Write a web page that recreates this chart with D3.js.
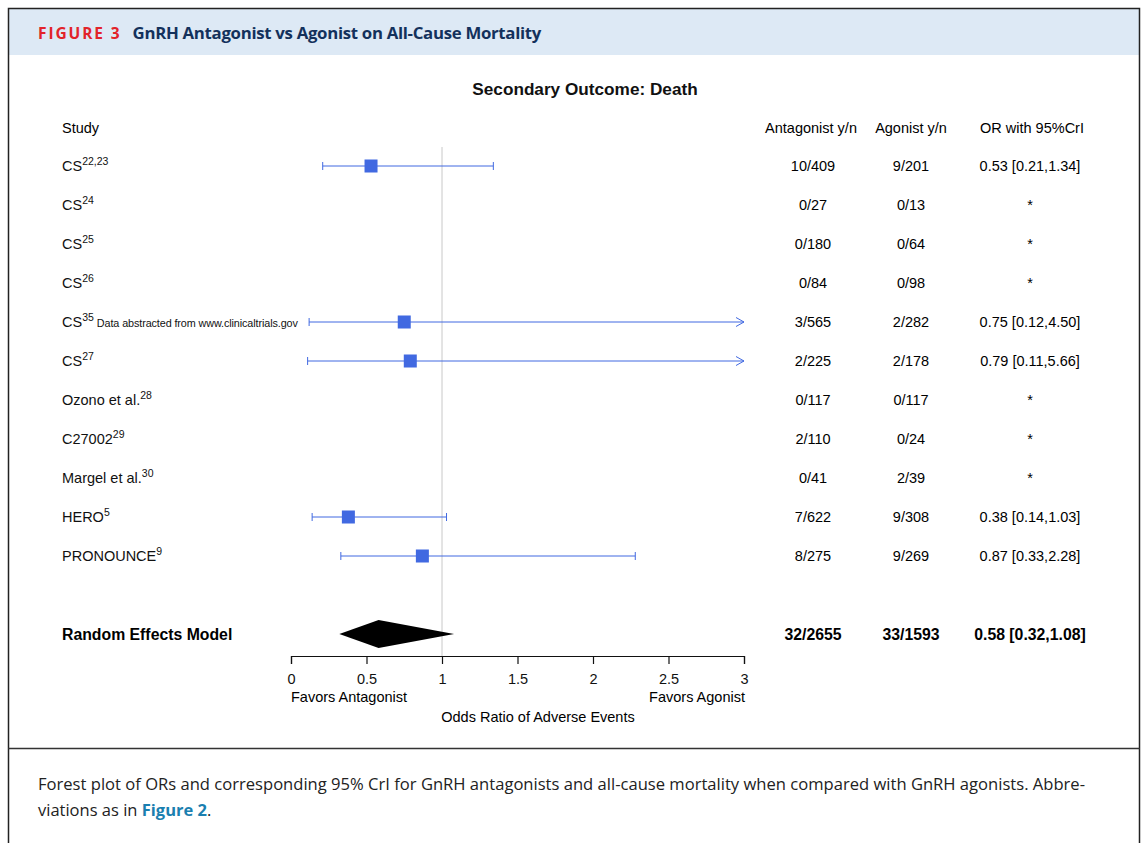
<!DOCTYPE html>
<html>
<head>
<meta charset="utf-8">
<script src="https://cdn.jsdelivr.net/npm/d3@7"></script>
<style>
  body { margin: 0; background: #fff; }
  svg text { font-family: 'Liberation Sans', Arial, sans-serif; }
</style>
</head>
<body>
<svg id="fig" width="1142" height="843"></svg>
<script>
// study labels and their reference superscripts
let studyNames = ['CS', 'CS', 'CS', 'CS', 'CS', 'CS', 'Ozono et al.', 'C27002', 'Margel et al.', 'HERO', 'PRONOUNCE'];
let studySups = ['22,23', '24', '25', '26', '35', '27', '28', '29', '30', '5', '9'];
let studyNotes = ['', '', '', '', 'Data abstracted from www.clinicaltrials.gov', '', '', '', '', '', ''];
let antagonistYN = ['10/409', '0/27', '0/180', '0/84', '3/565', '2/225', '0/117', '2/110', '0/41', '7/622', '8/275'];
let agonistYN = ['9/201', '0/13', '0/64', '0/98', '2/282', '2/178', '0/117', '0/24', '2/39', '9/308', '9/269'];
// null = not estimable (*)
let orEst = [0.53, null, null, null, 0.75, 0.79, null, null, null, 0.38, 0.87];
let orLow = [0.21, null, null, null, 0.12, 0.11, null, null, null, 0.14, 0.33];
let orHigh = [1.34, null, null, null, 4.50, 5.66, null, null, null, 1.03, 2.28];

let pooled = {label: 'Random Effects Model', antagonist: '32/2655', agonist: '33/1593', est: 0.58, low: 0.32, high: 1.08};
let xTicks = [0, 0.5, 1, 1.5, 2, 2.5, 3];

let svg = d3.select('#fig');

// ---- frame ----
svg.append('rect').attr('x', 9).attr('y', 9).attr('width', 1130).attr('height', 46).attr('fill', '#dde9f5');
svg.append('path')
  .attr('d', 'M8.5,843 V8.5 H1139.5 V843')
  .attr('fill', 'none').attr('stroke', '#222').attr('stroke-width', 1.5);
svg.append('line').attr('x1', 8).attr('x2', 1140).attr('y1', 748.5).attr('y2', 748.5)
  .attr('stroke', '#333').attr('stroke-width', 1.5);

let title = svg.append('text').attr('x', 38).attr('y', 39)
  .style('font-family', "'Open Sans', 'Noto Sans', sans-serif").attr('font-weight', 'bold');
title.append('tspan').attr('fill', '#e2232a').attr('font-size', 15.5).attr('letter-spacing', 1.9).text('FIGURE 3');
title.append('tspan').attr('dx', 11).attr('fill', '#13315c').attr('font-size', 16.8).attr('letter-spacing', -0.3)
  .text('GnRH Antagonist vs Agonist on All-Cause Mortality');

// ---- caption ----
let capFont = "'Open Sans', 'Noto Sans', sans-serif";
svg.append('text').attr('x', 38).attr('y', 790).attr('font-size', 16.5).attr('fill', '#222')
  .attr('textLength', 1047).attr('lengthAdjust', 'spacingAndGlyphs')
  .style('font-family', capFont)
  .text('Forest plot of ORs and corresponding 95% CrI for GnRH antagonists and all-cause mortality when compared with GnRH agonists. Abbre-');
let cap2 = svg.append('text').attr('x', 38).attr('y', 816).attr('font-size', 16.5).attr('fill', '#222')
  .style('font-family', capFont);
cap2.append('tspan').text('viations as in ');
cap2.append('tspan').attr('fill', '#1a7fb0').attr('font-weight', 'bold').text('Figure 2');
cap2.append('tspan').text('.');

// ---- forest plot ----
let x = d3.scaleLinear().domain([0, 3]).range([291, 744]);
let y = d3.scaleLinear().domain([0, 1]).range([166, 205]);
let headY = 128;
let pooledY = y(12);
let colAnt = 813, colAgo = 911, colOR = 1030;
let blue = '#4169e1';

svg.append('text').attr('x', 585).attr('y', 95).attr('text-anchor', 'middle')
  .attr('font-size', 17.2).attr('font-weight', 'bold').attr('fill', '#111').text('Secondary Outcome: Death');

let fs = 14.5, fsb = 15.8;
svg.append('text').attr('x', 62).attr('y', headY + 5).attr('font-size', fs).text('Study');
svg.append('text').attr('x', 811).attr('y', headY + 5).attr('font-size', fs).attr('text-anchor', 'middle').text('Antagonist y/n');
svg.append('text').attr('x', 911).attr('y', headY + 5).attr('font-size', fs).attr('text-anchor', 'middle').text('Agonist y/n');
svg.append('text').attr('x', 1032).attr('y', headY + 5).attr('font-size', fs).attr('text-anchor', 'middle').text('OR with 95%CrI');

// reference line at OR = 1
svg.append('line').attr('x1', x(1)).attr('x2', x(1)).attr('y1', 147).attr('y2', 656)
  .attr('stroke', '#c8c8c8').attr('stroke-width', 1);

let rows = studyNames.map((n, i) => ({
  name: n, sup: studySups[i], note: studyNotes[i],
  ant: antagonistYN[i], ago: agonistYN[i],
  est: orEst[i], low: orLow[i], high: orHigh[i], i: i
}));

let g = svg.append('g').selectAll('g').data(rows).enter().append('g')
  .attr('transform', (d) => 'translate(0,' + y(d.i) + ')');

let lab = g.append('text').attr('x', 62).attr('y', 5).attr('font-size', fs).attr('fill', '#111');
lab.append('tspan').text((d) => d.name);
lab.append('tspan').attr('font-size', 10.5).attr('dy', -6).text((d) => d.sup);
lab.append('tspan').attr('font-size', 10.8).attr('dy', 6).attr('dx', 3).attr('letter-spacing', -0.1)
  .text((d) => d.note);

g.append('text').attr('x', colAnt).attr('y', 5).attr('font-size', fs).attr('text-anchor', 'middle').text((d) => d.ant);
g.append('text').attr('x', colAgo).attr('y', 5).attr('font-size', fs).attr('text-anchor', 'middle').text((d) => d.ago);
g.append('text').attr('x', colOR).attr('y', 5).attr('font-size', fs).attr('text-anchor', 'middle')
  .text((d) => d.est == null ? '*' : d.est.toFixed(2) + ' [' + d.low.toFixed(2) + ',' + d.high.toFixed(2) + ']');

let est = g.filter((d) => d.est != null);
let xMax = x.domain()[1];
est.append('line')
  .attr('x1', (d) => x(d.low)).attr('x2', (d) => x(Math.min(d.high, xMax)))
  .attr('y1', 0).attr('y2', 0).attr('stroke', blue).attr('stroke-width', 1);
// lower cap
est.append('line')
  .attr('x1', (d) => x(d.low)).attr('x2', (d) => x(d.low))
  .attr('y1', -4).attr('y2', 4).attr('stroke', blue).attr('stroke-width', 1);
// upper cap or arrow when truncated
est.append('path')
  .attr('d', (d) => {
    let xx = x(Math.min(d.high, xMax));
    return d.high > xMax
      ? 'M' + (xx - 8) + ',-4.5 L' + xx + ',0 L' + (xx - 8) + ',4.5'
      : 'M' + xx + ',-4 V4';
  })
  .attr('fill', 'none').attr('stroke', blue).attr('stroke-width', 1);
est.append('rect')
  .attr('x', (d) => x(d.est) - 6.5).attr('y', -6.5).attr('width', 13).attr('height', 13)
  .attr('fill', blue);

// pooled row
let pg = svg.append('g').attr('transform', 'translate(0,' + pooledY + ')');
pg.append('text').attr('x', 62).attr('y', 6).attr('font-size', fsb).attr('font-weight', 'bold').text(pooled.label);
pg.append('text').attr('x', colAnt).attr('y', 6).attr('font-size', fsb).attr('font-weight', 'bold').attr('text-anchor', 'middle').text(pooled.antagonist);
pg.append('text').attr('x', colAgo).attr('y', 6).attr('font-size', fsb).attr('font-weight', 'bold').attr('text-anchor', 'middle').text(pooled.agonist);
pg.append('text').attr('x', colOR).attr('y', 6).attr('font-size', fsb).attr('font-weight', 'bold').attr('text-anchor', 'middle')
  .text(pooled.est.toFixed(2) + ' [' + pooled.low.toFixed(2) + ',' + pooled.high.toFixed(2) + ']');
pg.append('path')
  .attr('d', 'M' + x(pooled.low) + ',0 L' + x(pooled.est) + ',-14 L' + x(pooled.high) + ',0 L' + x(pooled.est) + ',14 Z')
  .attr('fill', '#000');

// x axis
let axis = svg.append('g').attr('transform', 'translate(0,656)')
  .call(d3.axisBottom(x).tickValues(xTicks).tickSize(8).tickPadding(10).tickFormat(d3.format('')));
axis.select('.domain').attr('stroke', '#111').attr('stroke-width', 1.2);
axis.selectAll('.tick line').attr('stroke', '#111').attr('stroke-width', 1.2);
axis.selectAll('.tick text').attr('font-size', fs).attr('fill', '#111')
  .style('font-family', "'Liberation Sans', Arial, sans-serif");

svg.append('text').attr('x', x(0)).attr('y', 702).attr('font-size', fs).text('Favors Antagonist');
svg.append('text').attr('x', x(3) + 1).attr('y', 702).attr('font-size', fs).attr('text-anchor', 'end').text('Favors Agonist');
svg.append('text').attr('x', 538).attr('y', 722).attr('font-size', fs).attr('text-anchor', 'middle').text('Odds Ratio of Adverse Events');
</script>
</body>
</html>
